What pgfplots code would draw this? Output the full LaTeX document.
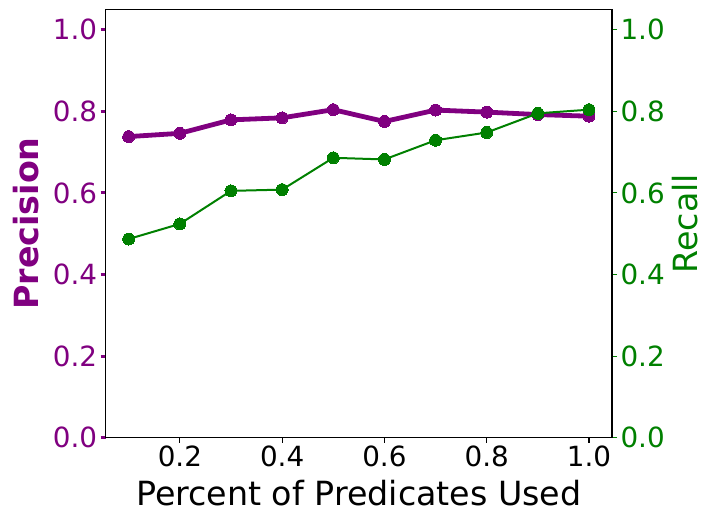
\documentclass[border=0pt]{standalone}
\usepackage{pgfplots}
\pgfplotsset{compat=1.18}
\usepackage{fontspec}
\setmainfont{DejaVu Sans}
\definecolor{mpurple}{RGB}{128,0,128}
\definecolor{mgreen}{RGB}{0,128,0}

\begin{document}
\begin{tikzpicture}
\pgfplotsset{
  base/.style={
    scale only axis, width=506.3pt, height=428.4pt,
    xmin=0.055, xmax=1.045, ymin=0, ymax=1.05,
    tick align=outside, major tick length=5pt,
    /pgf/number format/assume math mode=true,
    /pgf/number format/fixed,
    /pgf/number format/precision=1,
    /pgf/number format/fixed zerofill,
    ytick={0,0.2,0.4,0.6,0.8,1.0},
    xtick={0.2,0.4,0.6,0.8,1.0},
    ticklabel style={font=\fontsize{27.8}{33}\selectfont},
    label style={font=\fontsize{33.3}{40}\selectfont, inner sep=0pt},
    axis line style={line width=1.1pt},
  }
}
\begin{axis}[base, name=ax,
  xtick pos=lower, ytick pos=left,
  ytick style={mpurple, line width=3pt},
  yticklabel style={mpurple},
  xtick style={black, line width=1.1pt},
  xlabel={Percent of Predicates Used},
  xlabel style={at={(axis description cs:0.5,-0.13)}, anchor=center},
  ylabel={\bfseries Precision},
  ylabel style={mpurple, at={(axis description cs:-0.158,0.5)}, anchor=center},
]
\addplot[mpurple, line width=4.8pt, mark=*, mark size=6pt, mark options={solid, fill=mpurple, line width=0pt}]
coordinates {(0.1,0.738) (0.2,0.746) (0.3,0.779) (0.4,0.784) (0.5,0.804) (0.6,0.775) (0.7,0.803) (0.8,0.798) (0.9,0.792) (1.0,0.788)};
\end{axis}
\begin{axis}[base,
  axis x line=none, axis y line*=right,
  ytick style={mgreen, line width=1.1pt},
  yticklabel style={mgreen},
  ylabel={Recall},
  ylabel style={mgreen, at={(axis description cs:1.145,0.5)}, anchor=center},
]
\addplot[mgreen, line width=2pt, mark=*, mark size=6pt, mark options={solid, fill=mgreen, line width=0pt}]
coordinates {(0.1,0.487) (0.2,0.524) (0.3,0.605) (0.4,0.608) (0.5,0.686) (0.6,0.682) (0.7,0.729) (0.8,0.748) (0.9,0.795) (1.0,0.804)};
\end{axis}
\pgfresetboundingbox
\path (ax.south west) ++(-105.7pt,-71.3pt) rectangle ++(703pt,509pt);
\end{tikzpicture}
\end{document}
